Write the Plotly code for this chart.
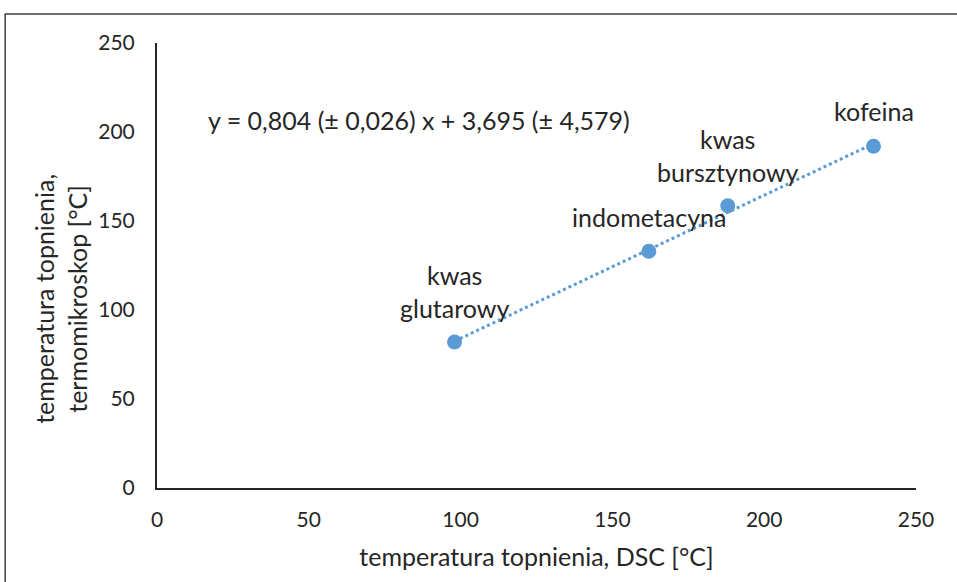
import plotly.graph_objects as go

# Melting points: DSC vs. hot-stage microscope
substances = ["kwas<br>glutarowy", "indometacyna", "kwas<br>bursztynowy", "kofeina"]
t_dsc = [98, 162, 188, 236]
t_micro = [82, 133, 158.6, 192]

# label anchor positions (data coordinates) for each substance name
label_x = [98, 162, 188, 236]
label_y = [110.5, 152, 187, 212]

# fitted line y = a*x + b
slope = 0.804
intercept = 3.695
fit_range = [min(t_dsc), max(t_dsc)]
equation = "y = 0,804 (± 0,026) x + 3,695 (± 4,579)"

x_ticks = [0, 50, 100, 150, 200, 250]
y_ticks = [0, 50, 100, 150, 200, 250]

FONT = "Lato, 'Open Sans', sans-serif"
BLUE = "#5B9BD5"
TXT = "#262626"

fig = go.Figure()

fig.add_trace(go.Scatter(
    x=fit_range,
    y=[slope * v + intercept for v in fit_range],
    mode="lines",
    line=dict(color=BLUE, width=3, dash="dot"),
    hoverinfo="skip",
    showlegend=False,
))

fig.add_trace(go.Scatter(
    x=t_dsc, y=t_micro,
    mode="markers",
    marker=dict(color=BLUE, size=15),
    showlegend=False,
))

for name, lx, ly in zip(substances, label_x, label_y):
    fig.add_annotation(x=lx, y=ly, text=name, showarrow=False,
                       xanchor="center", yanchor="middle",
                       font=dict(size=25, color=TXT, family=FONT))

fig.add_annotation(x=16.3, y=206.5, text=equation, showarrow=False,
                   xanchor="left", yanchor="middle",
                   font=dict(size=25, color=TXT, family=FONT))

# vertical axis title, placed as a rotated annotation
fig.add_annotation(
    xref="paper", yref="paper", x=-0.1265, y=0.425,
    text="temperatura topnienia,<br>termomikroskop [°C]",
    textangle=-90, showarrow=False, xanchor="center", yanchor="middle",
    align="center", font=dict(size=25, color=TXT, family=FONT),
)

# outer chart frame
fig.add_shape(type="rect", xref="paper", yref="paper",
              x0=-0.2, y0=-0.4, x1=1.2, y1=1.0652,
              line=dict(color="#404040", width=1.5), layer="below")

fig.update_xaxes(
    range=[0, 250], tickvals=x_ticks, showgrid=False, zeroline=False,
    showline=True, linecolor="#262626", linewidth=2,
    ticks="outside", ticklen=12, tickcolor="rgba(0,0,0,0)",
    tickfont=dict(size=21, color=TXT, family=FONT),
    title=dict(text="temperatura topnienia, DSC [°C]",
               font=dict(size=25, color=TXT, family=FONT), standoff=18),
)
fig.update_yaxes(
    range=[0, 250], tickvals=y_ticks, showgrid=False, zeroline=False,
    showline=True, linecolor="#262626", linewidth=2,
    ticks="outside", ticklen=16, tickcolor="rgba(0,0,0,0)",
    tickfont=dict(size=21, color=TXT, family=FONT),
)

fig.update_layout(
    width=957, height=582,
    margin=dict(l=157, r=41, t=43, b=94),
    plot_bgcolor="white", paper_bgcolor="white",
    font=dict(family=FONT, color=TXT),
)

fig.write_html("out.html")
